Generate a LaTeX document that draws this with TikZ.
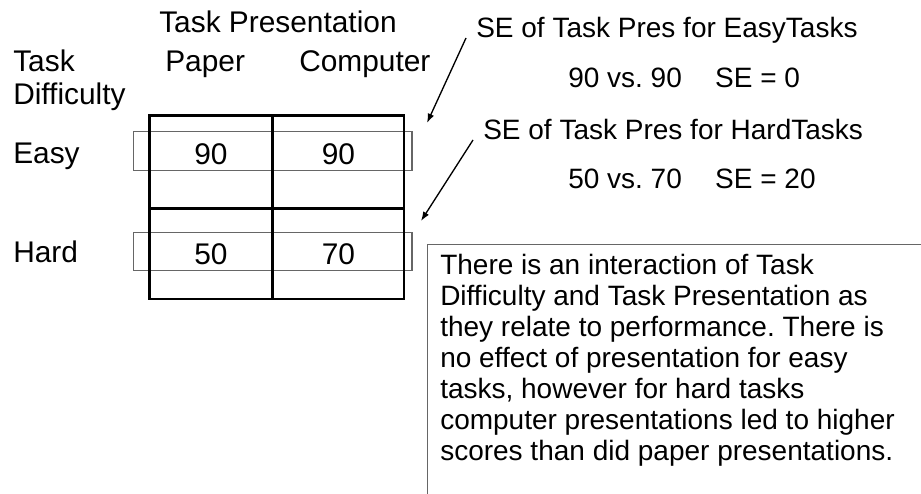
\documentclass[tikz,border=0pt]{standalone}
\usepackage{fontspec}
\setmainfont{Liberation Sans}
\usetikzlibrary{arrows.meta}
\definecolor{ink}{HTML}{000000}
\definecolor{frame}{HTML}{666666}
\frenchspacing

\begin{document}
\begin{tikzpicture}[
  x=0.75pt,y=-0.75pt,
  font=\fontsize{22.4}{26}\selectfont,
  >={Latex[length=7pt,width=5pt]},
  label/.style={anchor=base west,inner sep=0pt,text=ink},
  value/.style={anchor=base,inner sep=0pt,text=ink},
  remark/.style={anchor=base west,inner sep=0pt,text=ink,
                 font=\fontsize{21}{23.1}\selectfont},
  grid/.style={draw=ink,line width=1.9pt},
  band/.style={draw=frame,line width=0.8pt},
  pointer/.style={->,draw=ink,line width=1pt},
  memo/.style={draw=frame,line width=1pt,anchor=north west,
               minimum width=400pt,minimum height=200pt}
]
\useasboundingbox (0,0) rectangle (921,493);
\clip (0,0) rectangle (921,493);

% Headings
\node[label] (pres) at (159,32) {Task Presentation};
\node[label] (diff1) at (13,71) {Task};
\node[label] (diff2) at (13,104) {Difficulty};
\node[label] (paper) at (165,71) {Paper};
\node[label] (comp) at (299,71) {Computer};
\node[label] (easy) at (13,163) {Easy};
\node[label] (hard) at (13,262) {Hard};

% Row bands
\draw[band] (133.3,131.7) rectangle (412,170.3);
\draw[band] (133.3,232.3) rectangle (412,270.7);

% Table
\draw[grid] (149.3,115.7) rectangle (404,299);
\draw[grid] (272.7,115.7) -- (272.7,299);
\draw[grid] (149.3,208.7) -- (404,208.7);

% Cell values
\node[value] (pe) at (211,164.5) {90};
\node[value] (ce) at (338.5,164.5) {90};
\node[value] (ph) at (211,264) {50};
\node[value] (ch) at (338.5,264) {70};

% Simple effects
\node[remark] (seeasy) at (476,37) {SE of Task Pres for EasyTasks};
\node[remark] (cmpeasy) at (568,87) {90 vs. 90\hspace{25pt}SE = 0};
\node[remark] (sehard) at (483,139) {SE of Task Pres for HardTasks};
\node[remark] (cmphard) at (568,188) {50 vs. 70\hspace{25pt}SE = 20};

% Pointers
\coordinate (easytail) at (466,38);
\coordinate (easytip) at (427,123);
\coordinate (hardtail) at (473,140);
\coordinate (hardtip) at (421,221);
\draw[pointer] (easytail) -- (easytip);
\draw[pointer] (hardtail) -- (hardtip);

% Interpretation
\node[memo] (memo) at (427,244) {};
\node[remark,align=left,font=\fontsize{21}{23.3}\selectfont]
  (summary) at (440,460.5)
  {There is an interaction of Task\\
   Difficulty and Task Presentation as\\
   they relate to performance. There is\\
   no effect of presentation for easy\\
   tasks, however for hard tasks\\
   computer presentations led to higher\\
   scores than did paper presentations.};

\end{tikzpicture}
\end{document}
